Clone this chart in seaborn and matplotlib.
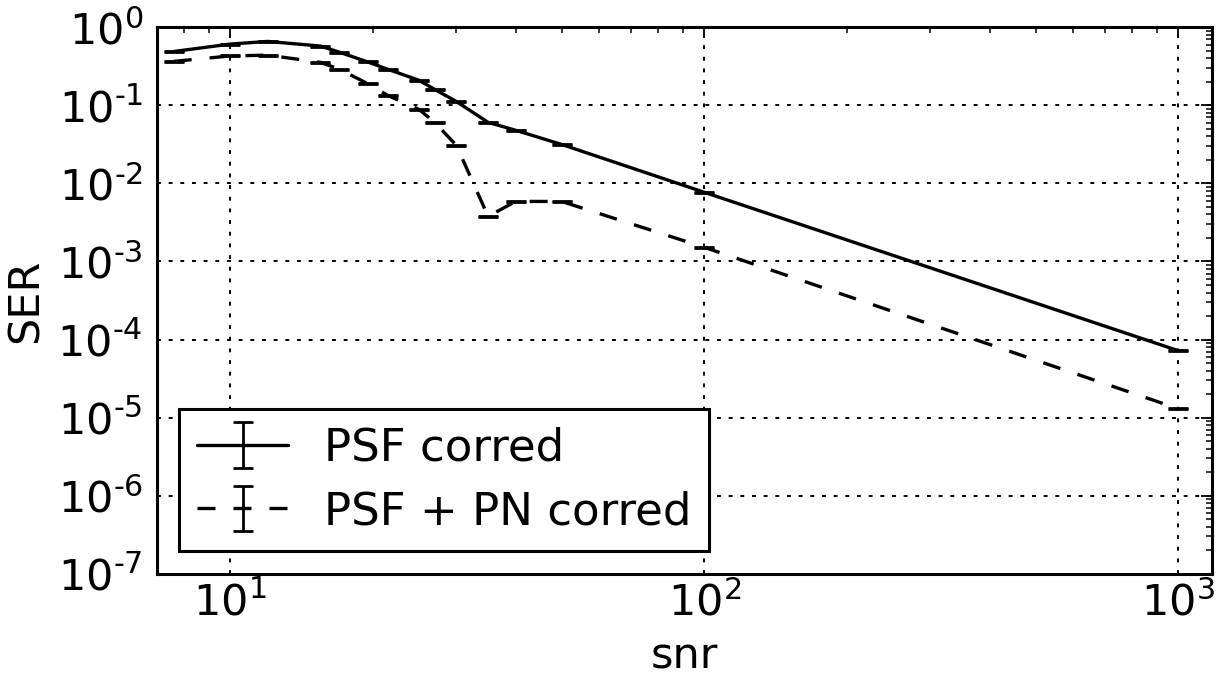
import numpy as np
import pandas as pd
import matplotlib
matplotlib.use("Agg")
import matplotlib.pyplot as plt
import matplotlib.ticker as mticker
import seaborn as sns
from matplotlib.legend_handler import HandlerTuple

# ---- data ----
snr = [7.6, 10, 12, 15.5, 17, 19.5, 21.5, 25, 27, 30, 35, 40, 50, 100, 1000]
ser_psf = [0.49, 0.61, 0.66, 0.575, 0.48, 0.36, 0.29, 0.21, 0.16, 0.112,
           0.0605, 0.048, 0.0316, 0.0077, 7.2e-5]
ser_psf_pn = [0.366, 0.43, 0.44, 0.356, 0.29, 0.19, 0.134, 0.089, 0.0605,
              0.0307, 0.00378, 0.00588, 0.00588, 0.00152, 1.3e-5]
rel_err = [0.015] * len(snr)
series_labels = ["PSF corred", "PSF + PN corred"]

sns.set_theme(style="white", rc={
    "axes.edgecolor": "black",
    "axes.linewidth": 2.2,
    "xtick.color": "black",
    "ytick.color": "black",
    "text.color": "black",
    "axes.labelcolor": "black",
})
plt.rcParams["font.family"] = ["DejaVu Sans"]
plt.rcParams["font.size"] = 31
plt.rcParams["mathtext.fontset"] = "dejavusans"
plt.rcParams["axes.unicode_minus"] = False

fig = plt.figure(figsize=(12.25, 6.83), dpi=100)
ax = fig.add_axes([0.128, 0.160, 0.861, 0.800])

df = pd.DataFrame({
    "snr": snr * 2,
    "SER": ser_psf + ser_psf_pn,
    "series": [series_labels[0]] * len(snr) + [series_labels[1]] * len(snr),
})
sns.lineplot(data=df, x="snr", y="SER", style="series",
             style_order=series_labels,
             dashes={series_labels[0]: "", series_labels[1]: (5.4, 5.4)},
             color="black", linewidth=2.4, estimator=None, legend=False, ax=ax)
lines = list(ax.lines)

containers = []
for vals in (ser_psf, ser_psf_pn):
    y = np.array(vals)
    err = y * np.array(rel_err)
    c = ax.errorbar(snr, y, yerr=err, fmt="none", ecolor="black",
                    elinewidth=2.0, capsize=7.2, capthick=2.0)
    containers.append(c)

ax.set_xscale("log")
ax.set_yscale("log")
ax.set_xlim(7, 1175)
ax.set_ylim(1e-7, 1)


def pow10_label(v, pos):
    if v <= 0:
        return ""
    n = int(round(np.log10(v)))
    if n < 0:
        return "$\\mathdefault{10^{\u2010%d}}$" % (-n)
    return "$\\mathdefault{10^{%d}}$" % n


ax.yaxis.set_major_locator(mticker.LogLocator(base=10, numticks=20))
ax.yaxis.set_minor_locator(mticker.LogLocator(base=10, subs=np.arange(2, 10), numticks=20))
ax.yaxis.set_major_formatter(mticker.FuncFormatter(pow10_label))
ax.yaxis.set_minor_formatter(mticker.NullFormatter())

ax.grid(True, which="major", color="black", linestyle=(0, (2, 4)), linewidth=1.4)
ax.tick_params(which="both", direction="in", top=True, right=True, labelsize=31)
ax.tick_params(axis="x", which="both", pad=6)
ax.tick_params(axis="y", which="both", pad=10)
ax.tick_params(which="major", length=8, width=1.3)
ax.tick_params(which="minor", length=4, width=1.1)

ax.set_xlabel("snr", fontsize=31, labelpad=8)
ax.set_ylabel("SER", fontsize=31, labelpad=8)

leg = ax.legend([(lines[0], containers[0]), (lines[1], containers[1])],
                series_labels, loc="lower left",
                handler_map={tuple: HandlerTuple(ndivide=1, pad=0)},
                fontsize=32.5, frameon=True, fancybox=False,
                borderaxespad=0.5, borderpad=0.4, labelspacing=0.45,
                handlelength=2.0, handletextpad=0.8)
leg.get_frame().set_edgecolor("black")
leg.get_frame().set_linewidth(2.2)
leg.get_frame().set_alpha(1)

fig.savefig("out.png", dpi=100)
